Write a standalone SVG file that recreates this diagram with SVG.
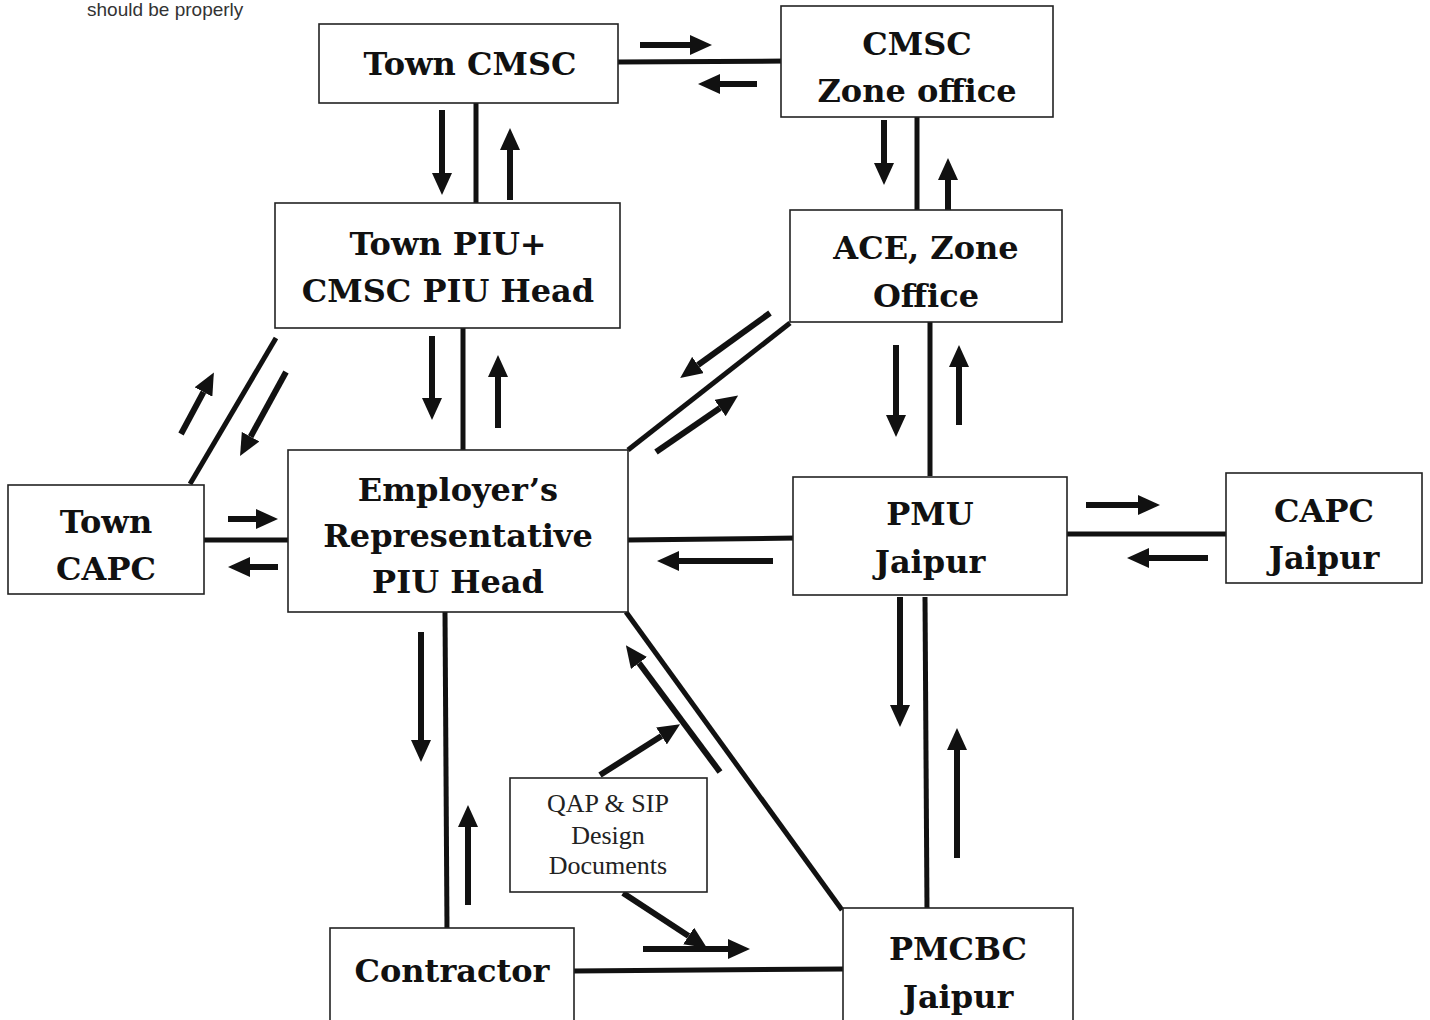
<svg xmlns="http://www.w3.org/2000/svg" width="1430" height="1020" viewBox="0 0 1430 1020">
<style>
.box{fill:#fff;stroke:#222;stroke-width:1.6}
.t{font-family:"DejaVu Serif","Liberation Serif",serif;font-weight:bold;font-size:32px;fill:#111;text-anchor:middle}
.q{font-family:"Liberation Serif","Times New Roman",serif;font-size:26px;fill:#222;text-anchor:middle}
.c{stroke:#111;stroke-width:5;fill:none}
.a{stroke:#111;stroke-width:6;fill:none;marker-end:url(#h)}
</style>
<defs>
<marker id="h" viewBox="0 0 10 10" refX="0" refY="5" markerWidth="22" markerHeight="20" markerUnits="userSpaceOnUse" orient="auto" preserveAspectRatio="none">
<path d="M0,0 L10,5 L0,10 z" fill="#111"/>
</marker>
</defs>
<rect width="1430" height="1020" fill="#fff"/>
<text x="87" y="16" font-family="Liberation Sans, Arial, sans-serif" font-size="19" fill="#333">should be properly</text>

<g id="connectors">
<line class="c" x1="618" y1="62" x2="787" y2="61"/>
<line class="c" x1="476" y1="103" x2="476" y2="203"/>
<line class="c" x1="917" y1="117" x2="917" y2="212"/>
<line class="c" x1="463" y1="328" x2="463" y2="450"/>
<line class="c" x1="930" y1="322" x2="930" y2="476"/>
<line class="c" x1="790" y1="323" x2="628" y2="450"/>
<line class="c" x1="276" y1="338" x2="190" y2="484"/>
<line class="c" x1="204" y1="540" x2="288" y2="540"/>
<line class="c" x1="628" y1="540" x2="797" y2="538"/>
<line class="c" x1="1067" y1="534" x2="1228" y2="534"/>
<line class="c" x1="925" y1="597" x2="927" y2="910"/>
<line class="c" x1="445" y1="612" x2="447" y2="930"/>
<line class="c" x1="626" y1="612" x2="842" y2="910"/>
<line class="c" x1="574" y1="971" x2="843" y2="969"/>

<line class="a" x1="640" y1="45" x2="690" y2="45"/>
<line class="a" x1="757" y1="84" x2="720" y2="84"/>
<line class="a" x1="442" y1="110" x2="442" y2="173"/>
<line class="a" x1="510" y1="200" x2="510" y2="150"/>
<line class="a" x1="884" y1="120" x2="884" y2="163"/>
<line class="a" x1="948" y1="210" x2="948" y2="180"/>
<line class="a" x1="432" y1="336" x2="432" y2="398"/>
<line class="a" x1="498" y1="428" x2="498" y2="377"/>
<line class="a" x1="896" y1="345" x2="896" y2="415"/>
<line class="a" x1="959" y1="425" x2="959" y2="367"/>
<line class="a" x1="770" y1="313" x2="698" y2="365"/>
<line class="a" x1="656" y1="452" x2="720" y2="408"/>
<line class="a" x1="181" y1="434" x2="203.5" y2="392"/>
<line class="a" x1="286" y1="372" x2="250.6" y2="436.7"/>
<line class="a" x1="228" y1="519" x2="256" y2="519"/>
<line class="a" x1="278" y1="567" x2="250" y2="567"/>
<line class="a" x1="773" y1="561" x2="679" y2="561"/>
<line class="a" x1="1086" y1="505" x2="1138" y2="505"/>
<line class="a" x1="1208" y1="558" x2="1149" y2="558"/>
<line class="a" x1="900" y1="597" x2="900" y2="705"/>
<line class="a" x1="957" y1="858" x2="957" y2="750"/>
<line class="a" x1="421" y1="632" x2="421" y2="740"/>
<line class="a" x1="468" y1="905" x2="468" y2="827"/>
<line class="a" x1="720" y1="772" x2="639" y2="663"/>
<line class="a" x1="600" y1="775" x2="661.5" y2="736"/>
<line class="a" x1="623" y1="893" x2="688.6" y2="936"/>
<line class="a" x1="643" y1="949" x2="728" y2="949"/>
</g>

<g id="town-cmsc"><rect class="box" x="319" y="24" width="299" height="79"/><text class="t" x="470" y="75">Town CMSC</text></g>
<g id="cmsc-zone"><rect class="box" x="781" y="6" width="272" height="111"/><text class="t" x="917" y="55">CMSC</text><text class="t" x="917" y="102">Zone office</text></g>
<g id="town-piu"><rect class="box" x="275" y="203" width="345" height="125"/><text class="t" x="448" y="255">Town PIU+</text><text class="t" x="448" y="302">CMSC PIU Head</text></g>
<g id="ace-zone"><rect class="box" x="790" y="210" width="272" height="112"/><text class="t" x="926" y="259">ACE, Zone</text><text class="t" x="926" y="307">Office</text></g>
<g id="town-capc"><rect class="box" x="8" y="485" width="196" height="109"/><text class="t" x="106" y="533">Town</text><text class="t" x="106" y="580">CAPC</text></g>
<g id="employer"><rect class="box" x="288" y="450" width="340" height="162"/><text class="t" x="458" y="501">Employer’s</text><text class="t" x="458" y="547">Representative</text><text class="t" x="458" y="593">PIU Head</text></g>
<g id="pmu"><rect class="box" x="793" y="477" width="274" height="118"/><text class="t" x="930" y="525">PMU</text><text class="t" x="930" y="573">Jaipur</text></g>
<g id="capc-jaipur"><rect class="box" x="1226" y="473" width="196" height="110"/><text class="t" x="1324" y="522">CAPC</text><text class="t" x="1324" y="569">Jaipur</text></g>
<g id="qap"><rect class="box" x="510" y="778" width="197" height="114"/><text class="q" x="608" y="812">QAP &amp; SIP</text><text class="q" x="608" y="844">Design</text><text class="q" x="608" y="874">Documents</text></g>
<g id="contractor"><rect class="box" x="330" y="928" width="244" height="96"/><text class="t" x="452" y="982">Contractor</text></g>
<g id="pmcbc"><rect class="box" x="843" y="908" width="230" height="116"/><text class="t" x="958" y="960">PMCBC</text><text class="t" x="958" y="1008">Jaipur</text></g>
</svg>
